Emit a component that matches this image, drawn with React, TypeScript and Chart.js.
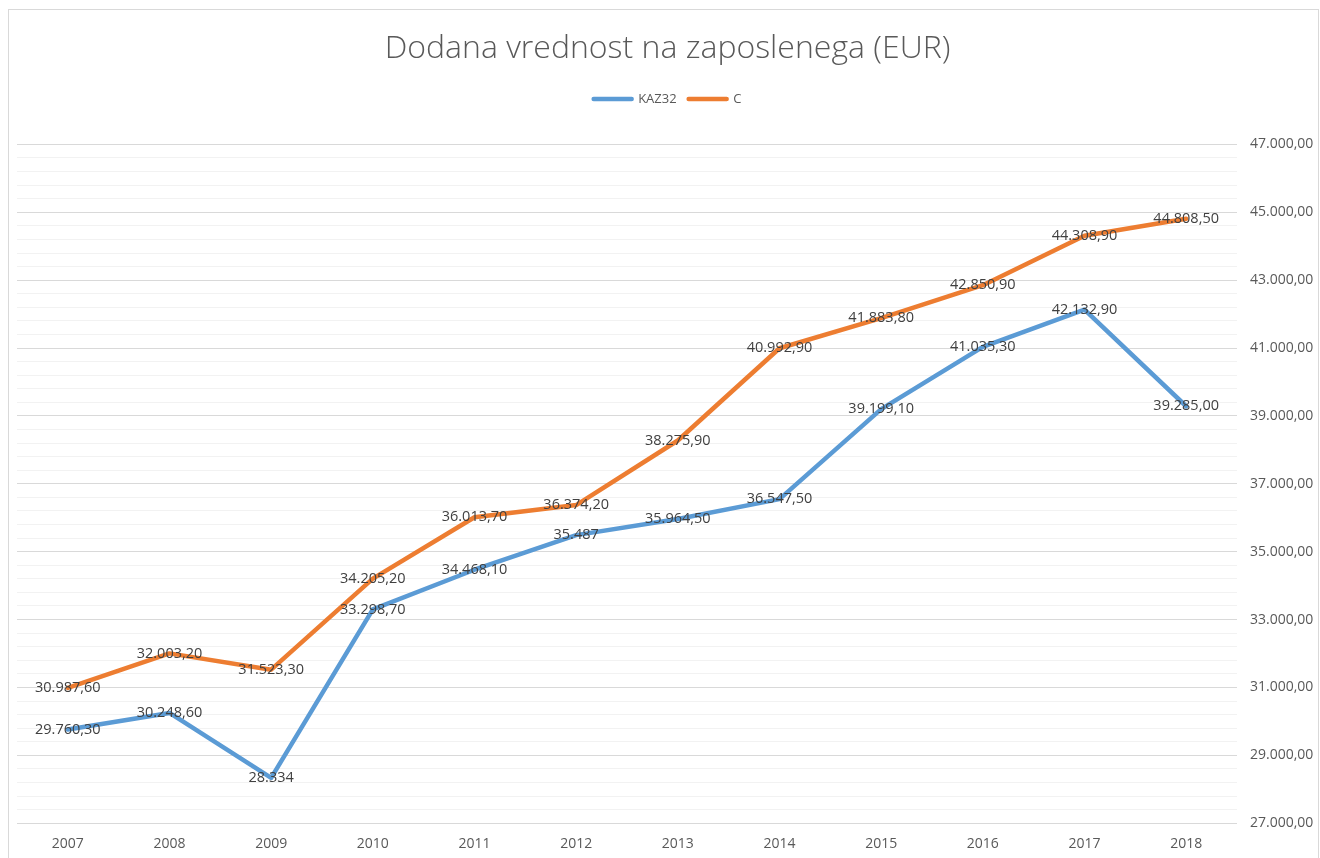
import React, { useEffect, useRef } from "react";
import { Chart, registerables } from "chart.js";

Chart.register(...registerables);

const years = ["2007", "2008", "2009", "2010", "2011", "2012", "2013", "2014", "2015", "2016", "2017", "2018"];
const kaz32Values = [29760.3, 30248.6, 28334, 33298.7, 34468.1, 35487, 35964.5, 36547.5, 39199.1, 41035.3, 42132.9, 39285.0];
const cValues = [30987.6, 32003.2, 31523.3, 34205.2, 36013.7, 36374.2, 38275.9, 40992.9, 41883.8, 42850.9, 44308.9, 44808.5];
const kaz32Labels = ["29.760,30", "30.248,60", "28.334", "33.298,70", "34.468,10", "35.487", "35.964,50", "36.547,50", "39.199,10", "41.035,30", "42.132,90", "39.285,00"];
const cLabels = ["30.987,60", "32.003,20", "31.523,30", "34.205,20", "36.013,70", "36.374,20", "38.275,90", "40.992,90", "41.883,80", "42.850,90", "44.308,90", "44.808,50"];
const yMin = 27000;
const yMax = 47000;
const yMinorStep = 400;
const titleText = "Dodana vrednost na zaposlenega (EUR)";

const FONT = "'Open Sans', 'Noto Sans', sans-serif";

function formatNum(v: number): string {
  const neg = v < 0;
  const fixed = Math.abs(v).toFixed(2);
  const [intPart, dec] = fixed.split(".");
  const withSep = intPart.replace(/\B(?=(\d{3})+(?!\d))/g, ".");
  return (neg ? "-" : "") + withSep + "," + dec;
}

const labelPlugin = {
  id: "pointLabels",
  afterDatasetsDraw(chart: any) {
    const ctx = chart.ctx;
    const sets = [kaz32Labels, cLabels];
    ctx.save();
    ctx.font = `14.5px ${FONT}`;
    ctx.fillStyle = "#404040";
    ctx.textAlign = "center";
    ctx.textBaseline = "middle";
    chart.data.datasets.forEach((_ds: any, di: number) => {
      const meta = chart.getDatasetMeta(di);
      meta.data.forEach((pt: any, i: number) => {
        ctx.fillText(sets[di][i], pt.x, pt.y);
      });
    });
    ctx.restore();
  },
};

const legendSpacer = {
  id: "legendSpacer",
  beforeInit(chart: any) {
    const legend = chart.legend;
    if (!legend) return;
    const origFit = legend.fit;
    legend.fit = function () {
      origFit.bind(legend)();
      this.height += 29;
    };
  },
};

export default function App() {
  const ref = useRef<HTMLCanvasElement | null>(null);
  useEffect(() => {
    if (!ref.current) return;
    const chart = new Chart(ref.current, {
      type: "line",
      data: {
        labels: years,
        datasets: [
          {
            label: "KAZ32",
            data: kaz32Values,
            borderColor: "#5B9BD5",
            backgroundColor: "#5B9BD5",
            borderWidth: 4.5,
            borderCapStyle: "round",
            borderJoinStyle: "round",
            pointRadius: 0,
            tension: 0,
          },
          {
            label: "C",
            data: cValues,
            borderColor: "#ED7D31",
            backgroundColor: "#ED7D31",
            borderWidth: 4.5,
            borderCapStyle: "round",
            borderJoinStyle: "round",
            pointRadius: 0,
            tension: 0,
          },
        ],
      },
      plugins: [labelPlugin, legendSpacer],
      options: {
        animation: false,
        responsive: false,
        maintainAspectRatio: false,
        layout: { padding: { left: 8, right: 0, top: 0, bottom: 6 } },
        plugins: {
          tooltip: { enabled: false },
          title: {
            display: true,
            text: titleText,
            color: "#595959",
            font: { family: FONT, size: 32, weight: "300" },
            padding: { top: 20, bottom: 12 },
          },
          legend: {
            display: true,
            position: "top",
            labels: {
              color: "#595959",
              font: { family: FONT, size: 13 },
              boxWidth: 38,
              boxHeight: 0,
              padding: 12,
            },
          },
        },
        scales: {
          x: {
            type: "category",
            offset: true,
            grid: { display: false, drawTicks: false },
            border: { display: false },
            ticks: {
              color: "#595959",
              font: { family: FONT, size: 14 },
              padding: 12,
              maxRotation: 0,
            },
          },
          y: {
            position: "right",
            min: yMin,
            max: yMax,
            grid: {
              drawTicks: false,
              color: (c: any) => (c.tick && (c.tick.value - 1000) % 2000 === 0 ? "#d9d9d9" : "#f2f2f2"),
              lineWidth: 1,
            },
            border: { display: false },
            ticks: {
              stepSize: yMinorStep,
              autoSkip: false,
              color: "#595959",
              font: { family: FONT, size: 14 },
              padding: 13,
              callback: (v: any) => ((Number(v) - 1000) % 2000 === 0 ? formatNum(Number(v)) : ""),
            },
            afterFit: (scale: any) => {
              scale.width = 81;
            },
          },
        },
      },
    });
    return () => chart.destroy();
  }, []);

  return (
    <div
      style={{
        position: "absolute",
        left: 8,
        top: 9,
        width: 1311,
        height: 872,
        border: "1px solid #d9d9d9",
        borderBottom: "none",
        background: "#fff",
        boxSizing: "border-box",
      }}
    >
      <canvas ref={ref} width={1309} height={860} style={{ display: "block" }} />
    </div>
  );
}
